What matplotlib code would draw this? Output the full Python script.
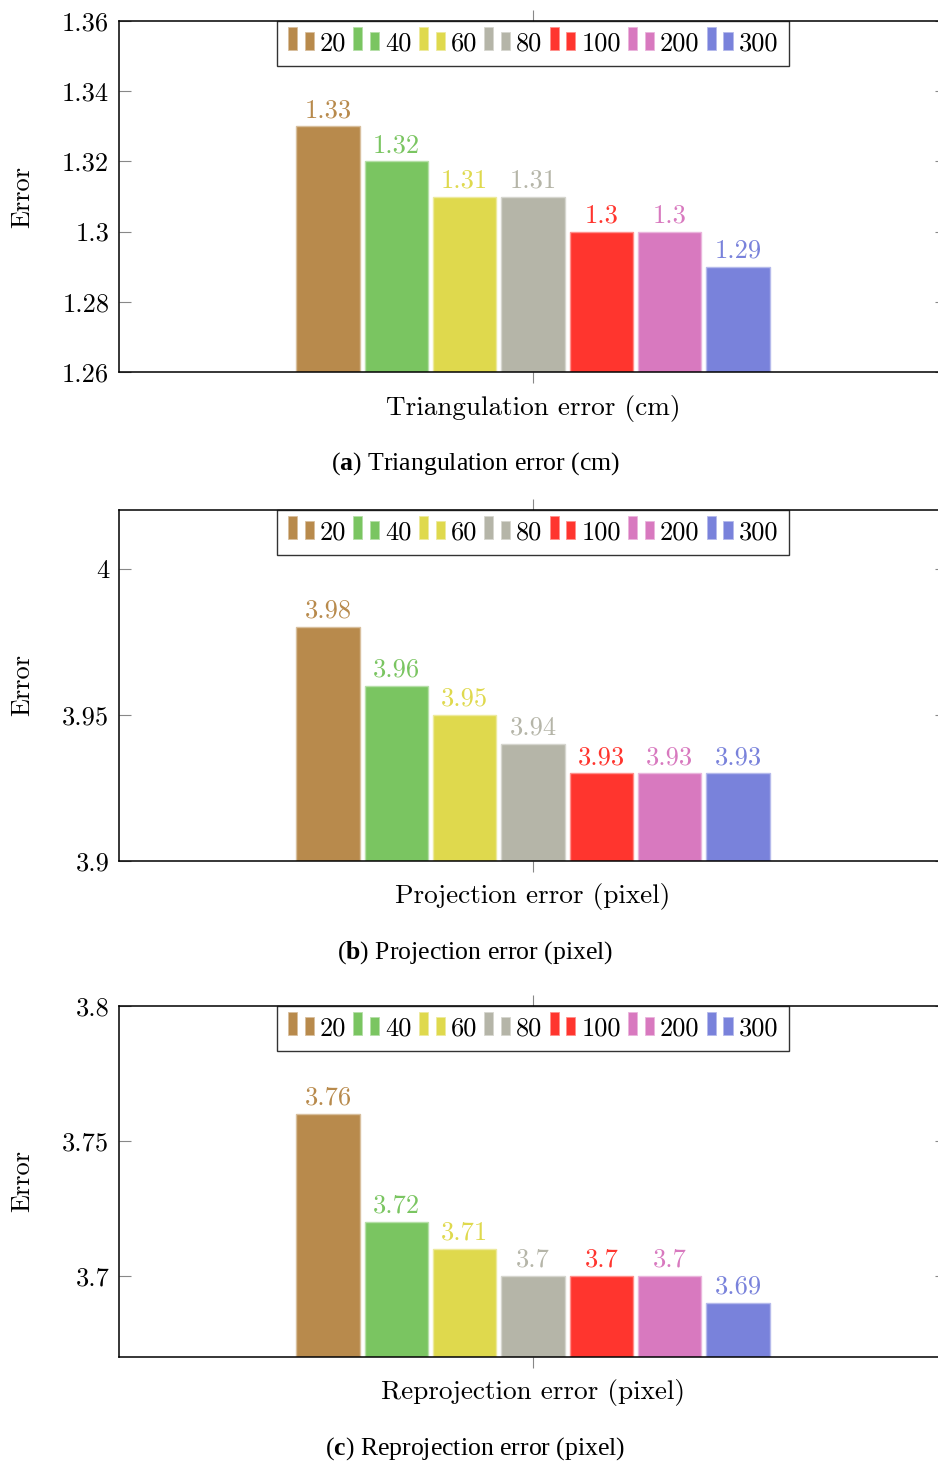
import numpy as np
import matplotlib
matplotlib.use("Agg")
import matplotlib.pyplot as plt
from matplotlib.patches import Rectangle
from matplotlib.legend_handler import HandlerBase
from matplotlib.colors import to_rgb

plt.rcParams['font.family'] = ['cmr10', 'DejaVu Serif']
plt.rcParams['axes.formatter.use_mathtext'] = True
plt.rcParams['mathtext.fontset'] = 'custom'
plt.rcParams['mathtext.rm'] = 'Liberation Serif'
plt.rcParams['mathtext.bf'] = 'Liberation Serif:bold'

# data
sizes = ['20', '40', '60', '80', '100', '200', '300']
colors = ['#B88A4C', '#7AC561', '#DFD94D', '#B5B5A8', '#FF352E', '#D879BF', '#7982DB']
tri_err = [1.33, 1.32, 1.31, 1.31, 1.30, 1.30, 1.29]
proj_err = [3.98, 3.96, 3.95, 3.94, 3.93, 3.93, 3.93]
reproj_err = [3.76, 3.72, 3.71, 3.70, 3.70, 3.70, 3.69]

titles = ['Triangulation error (cm)', 'Projection error (pixel)', 'Reprojection error (pixel)']
captions = ['a', 'b', 'c']
ylims = [(1.26, 1.36), (3.9, 4.02), (3.67, 3.8)]
yticks = [[1.26, 1.28, 1.30, 1.32, 1.34, 1.36], [3.9, 3.95, 4.0], [3.7, 3.75, 3.8]]
panels = [tri_err, proj_err, reproj_err]

W, H = 938, 1463
FS = 19
CM = 'cmr10'


def lighten(c, f=0.45):
    r = np.array(to_rgb(c))
    return tuple(r + (1 - r) * f)


class TwoBarHandler(HandlerBase):
    # pgfplots style ybar legend image: tall bar + short bar
    def create_artists(self, legend, orig_handle, xdescent, ydescent,
                       width, height, fontsize, trans):
        fc = orig_handle.get_facecolor()
        ec = orig_handle.get_edgecolor()
        w = width * 0.35
        r1 = Rectangle((-xdescent, -ydescent), w, height * 1.28,
                       facecolor=fc, edgecolor=ec, lw=0.6, transform=trans)
        r2 = Rectangle((-xdescent + width - w, -ydescent), w, height,
                       facecolor=fc, edgecolor=ec, lw=0.6, transform=trans)
        return [r1, r2]


fig = plt.figure(figsize=(W / 100, H / 100), dpi=100)

tops = [21, 510, 1006]
ax_h = 351
left, right = 119, 947
xlab_off = 36
cap_off = 92

for k in range(3):
    top = tops[k]
    ax = fig.add_axes([left / W, 1 - (top + ax_h) / H, (right - left) / W, ax_h / H])
    vals = panels[k]
    handles = []
    for i, (v, c) in enumerate(zip(vals, colors)):
        x = i - 3
        b = ax.bar(x, v - ylims[k][0], bottom=ylims[k][0], width=0.93,
                   color=c, edgecolor=lighten(c), linewidth=1.0, zorder=2)
        handles.append(b.patches[0])
        ax.annotate(f'{v:g}', xy=(x, v), xytext=(0, 3), textcoords='offset points',
                    ha='center', va='bottom', color=c, fontsize=FS, family=CM)
    ax.set_xlim(-6.06, 6.06)
    ax.set_ylim(*ylims[k])
    ax.set_yticks(yticks[k])
    ax.set_yticklabels([f'{t:g}' for t in yticks[k]], family=CM, fontsize=FS)
    ax.set_xticks([0])
    ax.set_xticklabels([''])
    ax.tick_params(axis='y', direction='in', length=8.5, width=0.8, color='#888888',
                   right=True, pad=7)
    ax.tick_params(axis='x', direction='out', length=8, width=0.8, color='#888888',
                   top=True)
    for s in ax.spines.values():
        s.set_linewidth(1.1)
        s.set_color('black')

    leg = ax.legend(handles, sizes, loc='upper center', bbox_to_anchor=(0.5, 1.0),
                    ncol=7, prop={'family': CM, 'size': FS}, frameon=True, fancybox=False,
                    handler_map={Rectangle: TwoBarHandler()},
                    handlelength=0.98, handleheight=0.68, handletextpad=0.23,
                    columnspacing=0.27, borderpad=0.4, borderaxespad=0.0)
    leg.get_frame().set_edgecolor('black')
    leg.get_frame().set_linewidth(1.0)
    leg.set_zorder(5)

    fig.text(533 / W, 1 - (top + ax_h + xlab_off) / H, titles[k],
             ha='center', va='center', fontsize=19.6, family=CM)
    fig.text(22 / W, 1 - (top + ax_h / 2) / H, 'Error', rotation=90,
             ha='center', va='center', fontsize=FS, family=CM)
    fig.text(475 / W, 1 - (top + ax_h + cap_off) / H,
             r'($\mathbf{' + captions[k] + r'}$) ' + titles[k],
             ha='center', va='center', fontsize=18.5, family='Liberation Serif')

fig.savefig('out.png', dpi=100)
